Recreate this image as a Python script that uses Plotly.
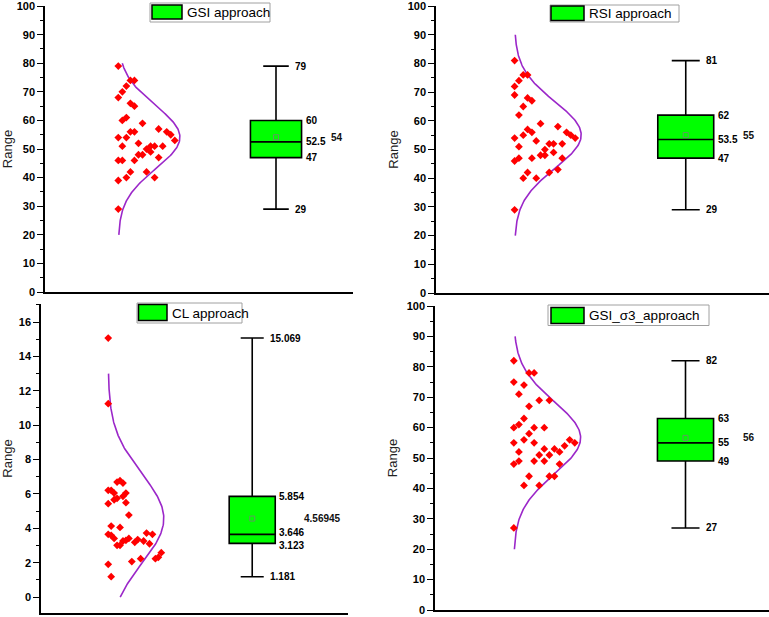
import numpy as np
import plotly.graph_objects as go

# ---------------- data ----------------
titles = ["GSI approach", "RSI approach", "CL approach", "GSI_σ3_approach"]

gsi_values = [79, 74, 74, 72, 70, 68, 66, 65, 61, 60, 59, 57, 56, 56, 56, 55, 54, 54, 53, 52,
              51, 51, 51, 51, 50, 49, 48, 48, 47, 46, 46, 46, 42, 42, 40, 40, 39, 29]
gsi_slots = [0, 3, 4, 2, 1, 0, 3, 4, 2, 1, 6, 10, 3, 4, 12, 13, 0, 2, 14, 5,
             1, 8, 9, 11, 7, 8, 5, 6, 10, 0, 1, 4, 3, 7, 2, 9, 0, 0]

rsi_values = [81, 76, 76, 74, 72, 69, 68, 67, 65, 62, 59, 58, 57, 56, 56, 55, 54, 54, 55, 53,
              52, 52, 52, 51, 50, 49, 48, 48, 47, 47, 47, 46, 43, 42, 42, 40, 40, 29]
rsi_slots = [0, 2, 3, 1, 0, 0, 3, 4, 2, 1, 6, 10, 3, 4, 12, 13, 14, 0, 2, 5,
             8, 9, 11, 1, 7, 9, 6, 7, 1, 4, 11, 0, 10, 3, 8, 2, 5, 0]

cl_values = [15.069, 11.25, 6.69, 6.77, 6.63, 6.21, 6.21, 6.05, 6.05, 5.86, 5.66, 5.74, 5.43,
             5.49, 4.77, 4.13, 4.05, 3.65, 3.59, 3.41, 3.01, 3.01, 3.26, 3.30, 3.41, 3.18,
             3.34, 3.26, 3.72, 3.10, 3.65, 2.06, 2.23, 2.23, 2.31, 2.58, 1.90, 1.181]
cl_slots = [0, 0, 3, 4, 5, 0, 1, 2, 6, 5, 2, 3, 0, 6, 7, 1, 4, 0, 1, 2,
            3, 4, 5, 6, 7, 9, 10, 12, 13, 14, 15, 8, 11, 16, 17, 18, 0, 1]

gsi3_values = [82, 78, 78, 75, 74, 71, 69, 69, 67, 63, 60, 61, 60, 60, 58, 56, 56, 55, 55, 55,
               54, 53, 53, 52, 52, 51, 51, 48, 48, 49, 49, 49, 44, 44, 44, 41, 41, 27]
gsi3_slots = [0, 3, 4, 0, 2, 1, 5, 7, 3, 2, 0, 1, 4, 6, 3, 2, 11, 0, 4, 12,
              10, 6, 8, 1, 9, 5, 7, 0, 9, 1, 4, 6, 3, 7, 8, 2, 5, 0]

# box statistics as labelled: min, q1, median, q3, max
gsi_stats = [29, 47, 52.5, 60, 79]
rsi_stats = [29, 47, 53.5, 62, 81]
cl_stats = [1.181, 3.123, 3.646, 5.854, 15.069]
gsi3_stats = [27, 49, 55, 63, 82]
stat_labels = [["29", "47", "52.5", "60", "79"],
               ["29", "47", "53.5", "62", "81"],
               ["1.181", "3.123", "3.646", "5.854", "15.069"],
               ["27", "49", "55", "63", "82"]]
mean_labels = ["54", "55", "4.56945", "56"]

# extent of the fitted normal curve
curve_ranges = [[20, 80], [20, 90], [0, 13], [20, 90]]

# y-axis tick settings
y_ranges = [[0, 100.02], [0, 100.02], [-0.93, 17.05], [0, 100.02]]
y_dticks = [10, 10, 2, 10]

# ---------------- layout / styling ----------------
W, H = 769, 617
FONT = "Arial, 'Liberation Sans', sans-serif"
GREEN = "#00ff00"
PURPLE = "#9b27c9"

values_all = [gsi_values, rsi_values, cl_values, gsi3_values]
slots_all = [gsi_slots, rsi_slots, cl_slots, gsi3_slots]
stats_all = [gsi_stats, rsi_stats, cl_stats, gsi3_stats]

# pixel geometry of the four panels: (left, right, top, bottom)
panel_px = [(45, 353, 6, 292), (436, 769, 6, 293), (41, 348, 304, 613), (435, 769, 306, 610)]
box_center = [7.5, 7.5, 6.88, 7.5]
box_width = [1.66, 1.68, 1.5, 1.68]
scatter_base = [2.38, 2.36, 2.19, 2.36]
slot_step = [0.131, 0.13, 0.096, 0.152]
curve_amp = [2.0, 2.0, 1.81, 2.0]
# legend frames (px): frame x0,x1,y0,y1 ; swatch x0,x1,y0,y1
legend_px = [
    ((150, 270, 3, 22), (152, 182, 5, 19)),
    ((550, 679, 5, 22), (551, 584, 6, 20.5)),
    ((137, 242, 303, 323), (138.5, 167, 304.5, 320.5)),
    ((548, 709, 305, 325.5), (551, 584, 307.5, 323.5)),
]
# small vertical nudges (px) for the q1 / median labels so they don't collide
label_yshift = [[0, 0, 0, 0, 0], [0, 0, 0, 0, 0], [0, -2, 2, 0, 0], [0, 0, 0, 0, 0]]

fig = go.Figure()
layout = dict(width=W, height=H, margin=dict(l=0, r=0, t=0, b=0),
              paper_bgcolor="white", plot_bgcolor="white", showlegend=False,
              font=dict(family=FONT, color="black"))
annotations = []
shapes = []

for i in range(4):
    n = "" if i == 0 else str(i + 1)
    xa, ya = "x" + n, "y" + n
    l, r, t, b = panel_px[i]
    layout["xaxis" + n] = dict(domain=[l / W, r / W], range=[0, 10], showline=True,
                               linecolor="black", linewidth=1.5, showticklabels=False,
                               ticks="", showgrid=False, zeroline=False, anchor=ya,
                               fixedrange=True)
    layout["yaxis" + n] = dict(domain=[1 - b / H, 1 - t / H], range=y_ranges[i],
                               showline=True, linecolor="black", linewidth=1.5,
                               ticks="outside", ticklen=6, tickwidth=1.2, tickcolor="black",
                               dtick=y_dticks[i], tick0=0, showgrid=False, zeroline=False,
                               ticklabeloverflow="allow",
                               tickfont=dict(family=FONT, size=11, weight="bold", color="black"),
                               minor=dict(ticks="outside", ticklen=3, tickwidth=1,
                                          tickcolor="black", dtick=y_dticks[i] / 2, tick0=0),
                               title=dict(text="Range", standoff=6,
                                          font=dict(family=FONT, size=13, color="#222")),
                               anchor=xa, automargin=False, fixedrange=True)

    vals = np.array(values_all[i], dtype=float)
    slots = np.array(slots_all[i], dtype=float)
    mean = vals.mean()
    sd = vals.std(ddof=1)

    # normal fit curve
    yy = np.linspace(curve_ranges[i][0], curve_ranges[i][1], 200)
    xx = scatter_base[i] + curve_amp[i] * np.exp(-(yy - mean) ** 2 / (2 * sd ** 2))
    fig.add_trace(go.Scatter(x=xx, y=yy, mode="lines", line=dict(color=PURPLE, width=1.6),
                             xaxis=xa, yaxis=ya, hoverinfo="skip"))
    # data points
    fig.add_trace(go.Scatter(x=scatter_base[i] + slots * slot_step[i], y=vals, mode="markers",
                             marker=dict(symbol="diamond", size=6, color="#ff0000",
                                         line=dict(width=0)),
                             xaxis=xa, yaxis=ya))
    # box
    mn, q1, med, q3, mx = stats_all[i]
    cx, bw = box_center[i], box_width[i]
    fig.add_trace(go.Box(x=[cx], q1=[q1], median=[med], q3=[q3], lowerfence=[mn],
                         upperfence=[mx], width=bw, fillcolor=GREEN,
                         line=dict(color="black", width=1.6), whiskerwidth=0.5,
                         boxpoints=False, xaxis=xa, yaxis=ya))
    # mean marker
    fig.add_trace(go.Scatter(x=[cx], y=[mean], mode="markers",
                             marker=dict(symbol="square-open", size=5, color="#5f9a5f",
                                         line=dict(width=1)),
                             xaxis=xa, yaxis=ya))
    # labels
    lab = stat_labels[i]
    lab_font = dict(family=FONT, size=10, weight="bold", color="black")
    for k, (val, shift_x, sh) in enumerate([(mn, cx + bw * 0.25, 4), (q1, cx + bw / 2, 2),
                                            (med, cx + bw / 2, 2), (q3, cx + bw / 2, 2),
                                            (mx, cx + bw * 0.25, 4)]):
        annotations.append(dict(x=shift_x, y=val, xref=xa, yref=ya, text=lab[k],
                                showarrow=False, xanchor="left", yanchor="middle",
                                xshift=sh, yshift=label_yshift[i][k], font=lab_font))
    annotations.append(dict(x=cx + bw / 2, y=mean, xref=xa, yref=ya, text=mean_labels[i],
                            showarrow=False, xanchor="left", yanchor="middle", xshift=27,
                            font=dict(family=FONT, size=10, weight="bold", color="#111")))

    # legend box
    (fx0, fx1, fy0, fy1), (sx0, sx1, sy0, sy1) = legend_px[i]
    shapes.append(dict(type="rect", xref="paper", yref="paper", x0=fx0 / W, x1=fx1 / W,
                       y0=1 - fy1 / H, y1=1 - fy0 / H, line=dict(color="#a0a0a0", width=1),
                       fillcolor="white", layer="above"))
    shapes.append(dict(type="rect", xref="paper", yref="paper", x0=sx0 / W, x1=sx1 / W,
                       y0=1 - sy1 / H, y1=1 - sy0 / H, line=dict(color="black", width=1.5),
                       fillcolor=GREEN, layer="above"))
    annotations.append(dict(x=(sx1 + 3) / W, y=1 - (fy0 + fy1) / 2 / H, xref="paper",
                            yref="paper", text=titles[i], showarrow=False, xanchor="left",
                            yanchor="middle", font=dict(family=FONT, size=13.5, color="black")))

layout["annotations"] = annotations
layout["shapes"] = shapes
fig.update_layout(**layout)
fig.write_html("out.html")
